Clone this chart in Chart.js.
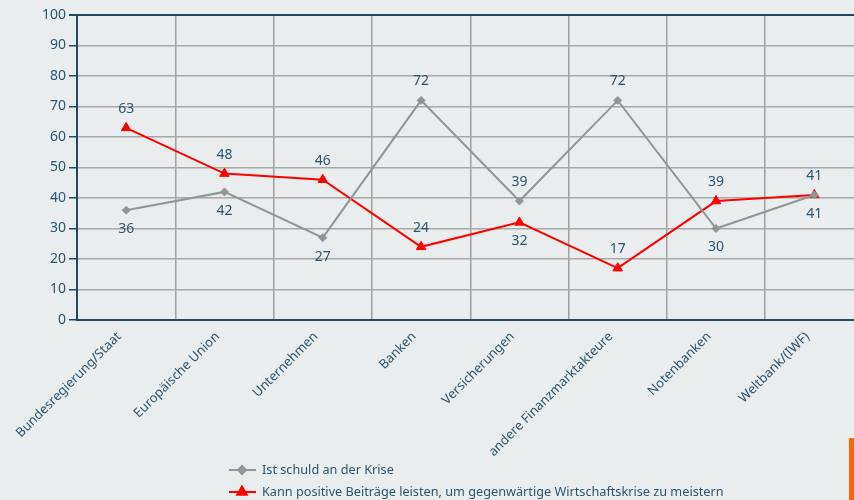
<!DOCTYPE html>
<html><head><meta charset="utf-8">
<script src="https://cdn.jsdelivr.net/npm/chart.js@4/dist/chart.umd.min.js"></script>
<style>
html,body{margin:0;padding:0;background:#e9eded;overflow:hidden;width:854px;height:500px;}
#wrap{position:absolute;left:0;top:0;width:870px;height:500px;}
#orange{position:absolute;left:849px;top:438px;width:5px;height:62px;background:#ff6600;}
</style></head><body>
<div id="wrap"><canvas id="c" width="870" height="500"></canvas></div>
<div id="orange"></div>
<script>
const categories = ["Bundesregierung/Staat","Europäische Union","Unternehmen","Banken","Versicherungen","andere Finanzmarktakteure","Notenbanken","Weltbank/(IWF)"];
const seriesNames = ["Ist schuld an der Krise","Kann positive Beiträge leisten, um gegenwärtige Wirtschaftskrise zu meistern"];
const schuld = [36, 42, 27, 72, 39, 72, 30, 41];
const beitraege = [63, 48, 46, 24, 32, 17, 39, 41];
const yTicks = [0,10,20,30,40,50,60,70,80,90,100];
// label placement per point: 1 = above, -1 = below
const schuldLabelPos = [-1,-1,-1,1,1,1,-1,-1];
const beitraegeLabelPos = [1,1,1,1,-1,1,1,1];

const TEXT = '#2b5670';
const DARK = '#1d4a63';
const GRAY = '#8f9696';
const FONT = '"Noto Sans", "DejaVu Sans", sans-serif';

const labelPlugin = {
  id:'pointLabels',
  afterDatasetsDraw(chart){
    const ctx = chart.ctx;
    const posArr = [schuldLabelPos, beitraegeLabelPos];
    ctx.save();
    ctx.font = '14px ' + FONT;
    ctx.fillStyle = TEXT;
    ctx.textAlign = 'center';
    ctx.textBaseline = 'middle';
    chart.data.datasets.forEach((ds, i) => {
      const meta = chart.getDatasetMeta(i);
      meta.data.forEach((pt, j) => {
        const dir = posArr[i][j];
        ctx.fillText(String(ds.data[j]), pt.x, pt.y - dir*19);
      });
    });
    ctx.restore();
  }
};

const legendPlugin = {
  id:'customLegend',
  afterDraw(chart){
    const ctx = chart.ctx;
    ctx.save();
    const items = [
      {color:GRAY, style:'rectRot', r:4, text:seriesNames[0], y:470},
      {color:'#ff0000', style:'triangle', r:5.5, text:seriesNames[1], y:492}
    ];
    items.forEach(it => {
      ctx.strokeStyle = it.color; ctx.lineWidth = 2;
      ctx.beginPath(); ctx.moveTo(229, it.y); ctx.lineTo(256, it.y); ctx.stroke();
      ctx.fillStyle = it.color;
      Chart.helpers.drawPoint(ctx, {pointStyle: it.style, radius: it.r, borderWidth:1}, 242, it.y);
      ctx.fillStyle = TEXT;
      ctx.font = '12.7px ' + FONT;
      ctx.textAlign = 'left'; ctx.textBaseline = 'middle';
      ctx.fillText(it.text, 262, it.y);
    });
    ctx.restore();
  }
};

new Chart(document.getElementById('c'), {
  type:'line',
  data:{
    labels: categories,
    datasets:[
      {label: seriesNames[0], data: schuld, borderColor:GRAY, backgroundColor:GRAY, borderWidth:2, pointStyle:'rectRot', pointRadius:4, pointBorderWidth:1, tension:0},
      {label: seriesNames[1], data: beitraege, borderColor:'#ff0000', backgroundColor:'#ff0000', borderWidth:2, pointStyle:'triangle', pointRadius:5.5, pointBorderWidth:1, tension:0}
    ]
  },
  options:{
    responsive:false,
    animation:false,
    layout:{padding:{left:0, top:15, right:6, bottom:0}},
    plugins:{legend:{display:false}, tooltip:{enabled:false}},
    scales:{
      x:{
        offset:true,
        grid:{offset:true, color:'#a0a0a0', lineWidth:1.5, drawTicks:false},
        border:{color:DARK, width:2},
        ticks:{color:TEXT, font:{family:FONT, size:13}, minRotation:45, maxRotation:45, padding:9, labelOffset:-7, autoSkip:false},
        afterFit(s){ s.height = 180; }
      },
      y:{
        min:0, max:100,
        afterBuildTicks(s){ s.ticks = yTicks.map(v => ({value:v})); },
        grid:{color:(c)=> (c.tick && c.tick.value===100) ? DARK : '#a8a8a8', lineWidth:(c)=> (c.tick && c.tick.value===100) ? 2 : 1.5, tickColor:DARK, tickLength:8},
        border:{color:DARK, width:2},
        ticks:{color:TEXT, font:{family:FONT, size:14}, padding:3},
        afterFit(s){ s.width = 77; }
      }
    }
  },
  plugins:[labelPlugin, legendPlugin]
});
</script>
</body></html>
